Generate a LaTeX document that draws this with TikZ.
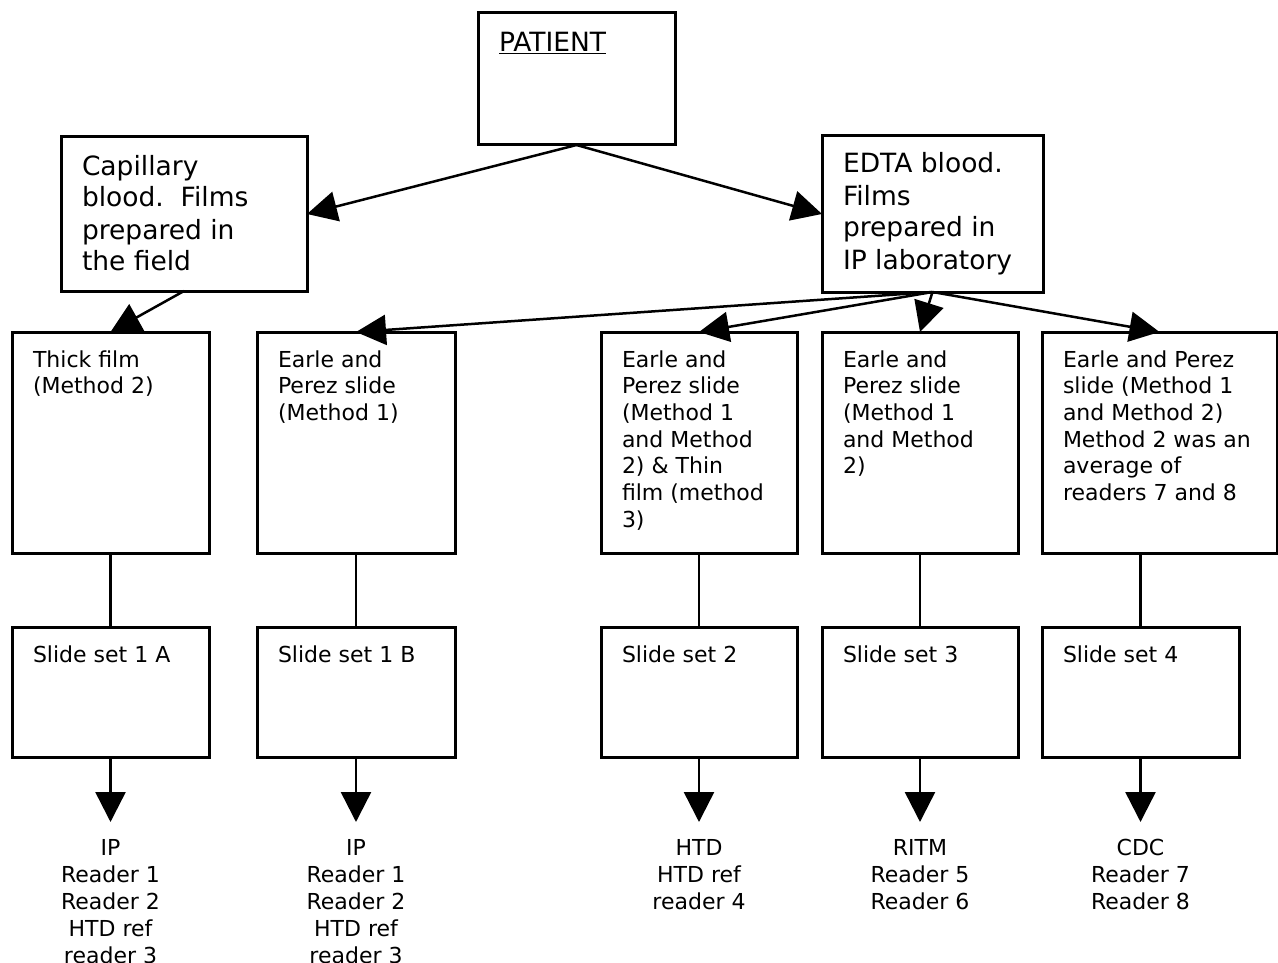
\documentclass[tikz,border=0pt]{standalone}
\usepackage{fontspec}
\setmainfont{DejaVu Sans}
\usetikzlibrary{arrows.meta}
\newcommand{\bigfont}{\fontsize{26.5}{32}\selectfont}
\newcommand{\smallfont}{\fontsize{22}{26.7}\selectfont}
\newcommand{\boxtext}[4]{\parbox[c][#2][t]{#1}{\raggedright\leftskip=21pt\relax\rule{0pt}{#3}#4}}
\tikzset{
  box/.style={draw,line width=3pt,inner sep=0pt,outer sep=0pt,anchor=north west},
  arr/.style={line width=2.5pt,-{Triangle[length=30pt,width=30pt]}},
  link/.style={line width=2.5pt},
  reader/.style={align=center,anchor=north,inner sep=0pt,font=\fontsize{22}{27}\selectfont}
}
\begin{document}
\begin{tikzpicture}[x=1pt,y=-1pt,line join=miter]
  \useasboundingbox (0,0) rectangle (1278,963);
  \node[box] (patient) at (478,13) {\bigfont\boxtext{197pt}{132pt}{39pt}{\underline{PATIENT}}};
  \node[box] (cap) at (61,137) {\bigfont\boxtext{246pt}{154pt}{38pt}{Capillary\\blood.\ \ Films\\prepared in\\the field}};
  \node[box] (edta) at (822,136) {\bigfont\boxtext{221pt}{156pt}{37pt}{EDTA blood.\\Films\\prepared in\\IP laboratory}};
  \node[box] (m1) at (12,332) {\smallfont\boxtext{197pt}{221pt}{35pt}{Thick film\\(Method 2)}};
  \node[box] (m2) at (257,332) {\smallfont\boxtext{198pt}{221pt}{35pt}{Earle and\\Perez slide\\(Method 1)}};
  \node[box] (m3) at (601,332) {\smallfont\boxtext{196pt}{221pt}{35pt}{Earle and\\Perez slide\\(Method 1\\and Method\\2) \& Thin\\film (method\\3)}};
  \node[box] (m4) at (822,332) {\smallfont\boxtext{196pt}{221pt}{35pt}{Earle and\\Perez slide\\(Method 1\\and Method\\2)}};
  \node[box] (m5) at (1042,332) {\smallfont\boxtext{235pt}{221pt}{35pt}{Earle and Perez\\slide (Method 1\\and Method 2)\\Method 2 was an\\average of\\readers 7 and 8}};
  \node[box] (s1) at (12,627) {\smallfont\boxtext{197pt}{130pt}{35pt}{Slide set 1 A}};
  \node[box] (s2) at (257,627) {\smallfont\boxtext{198pt}{130pt}{35pt}{Slide set 1 B}};
  \node[box] (s3) at (601,627) {\smallfont\boxtext{196pt}{130pt}{35pt}{Slide set 2}};
  \node[box] (s4) at (822,627) {\smallfont\boxtext{196pt}{130pt}{35pt}{Slide set 3}};
  \node[box] (s5) at (1042,627) {\smallfont\boxtext{197pt}{130pt}{35pt}{Slide set 4}};
  \node[reader] (r1) at (110.5,822) {\rule{0pt}{33pt}IP\\Reader 1\\Reader 2\\HTD ref\\reader 3};
  \node[reader] (r2) at (356,822) {\rule{0pt}{33pt}IP\\Reader 1\\Reader 2\\HTD ref\\reader 3};
  \node[reader] (r3) at (699,822) {\rule{0pt}{33pt}HTD\\HTD ref\\reader 4};
  \node[reader] (r4) at (920,822) {\rule{0pt}{33pt}RITM\\Reader 5\\Reader 6};
  \node[reader] (r5) at (1140.5,822) {\rule{0pt}{33pt}CDC\\Reader 7\\Reader 8};
  \draw[arr] (patient.south) -- (cap.east);
  \draw[arr] (patient.south) -- (edta.west);
  \draw[arr] (cap.south) -- (m1.north);
  \foreach \m in {m2,m3,m4,m5}
    \draw[arr] (edta.south) -- (\m.north);
  \foreach \i in {1,...,5}{
    \draw[link] (s\i.north |- m\i.south) -- (s\i.north);
    \draw[arr] (s\i.south) -- (r\i.north);
  }
\end{tikzpicture}
\end{document}
